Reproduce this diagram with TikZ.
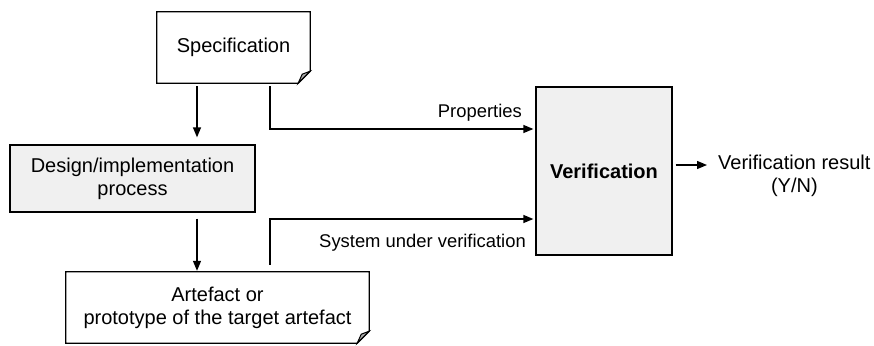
\documentclass[tikz,border=0pt]{standalone}
\usepackage{fontspec}
\setmainfont{Liberation Sans}
\usetikzlibrary{arrows.meta}
\definecolor{boxgray}{HTML}{F0F0F0}
\definecolor{foldgray}{HTML}{A8A8A8}
\newcommand\noteoutline[1]{%
  \draw[line width=1.3pt] (#1.north west) -- (#1.north east) -- ([yshift=12pt]#1.south east)
    -- ([xshift=-12pt]#1.south east) -- (#1.south west) -- cycle;
  \draw[line width=1pt, fill=foldgray] ([yshift=12pt]#1.south east) -- ([xshift=-12pt]#1.south east)
    -- ([xshift=-8pt,yshift=9pt]#1.south east) -- cycle;}
\begin{document}
\begin{tikzpicture}[x=1pt,y=-1pt,
  boxtext/.style={font=\fontsize{20}{23}\selectfont, align=center, inner sep=0pt},
  plainbox/.style={boxtext, draw, line width=1.3pt, fill=boxgray},
  lbl/.style={font=\fontsize{18.4}{22}\selectfont, inner sep=0pt},
  arr/.style={line width=1.3pt, -{Triangle[length=10pt,width=8pt]}}]
\useasboundingbox (0,0) rectangle (874,345);
% nodes
\node[boxtext, minimum width=153pt, minimum height=71pt] (spec) at (233.5,47.5) {Specification};
\noteoutline{spec}
\node[plainbox, minimum width=245pt, minimum height=67pt] (design) at (132.5,178.5) {Design/implementation\\process};
\node[boxtext, minimum width=303pt, minimum height=71pt] (art) at (217.5,307.5) {Artefact or\\prototype of the target artefact};
\noteoutline{art}
\node[plainbox, minimum width=136pt, minimum height=168pt, font=\fontsize{20}{23}\selectfont\bfseries] (verif) at (604,171) {Verification};
\node[boxtext, anchor=west] (res) at (718,176) {Verification result\\(Y/N)};
\node[lbl, anchor=east] (props) at (522,113) {Properties};
\node[lbl, anchor=east] (sys) at (526,243) {System under verification};
% helper coordinates
\coordinate (c1) at (197,0);
\coordinate (c2) at (270,0);
\coordinate (py) at (0,129);
\coordinate (sy) at (0,219);
\coordinate (oy) at (0,165);
% connectors
\draw[arr, shorten <=3pt, shorten >=7pt] (spec.south -| c1) -- (design.north -| c1);
\draw[arr, shorten <=6pt, shorten >=1pt] (design.south -| c1) -- (art.north -| c1);
\draw[arr, shorten <=3pt, shorten >=2pt] (spec.south -| c2) |- (verif.west |- py);
\draw[arr, shorten <=7pt, shorten >=2pt] (art.north -| c2) |- (verif.west |- sy);
\draw[arr, shorten <=3pt, shorten >=11pt] (verif.east |- oy) -- (res.west |- oy);
\end{tikzpicture}
\end{document}
